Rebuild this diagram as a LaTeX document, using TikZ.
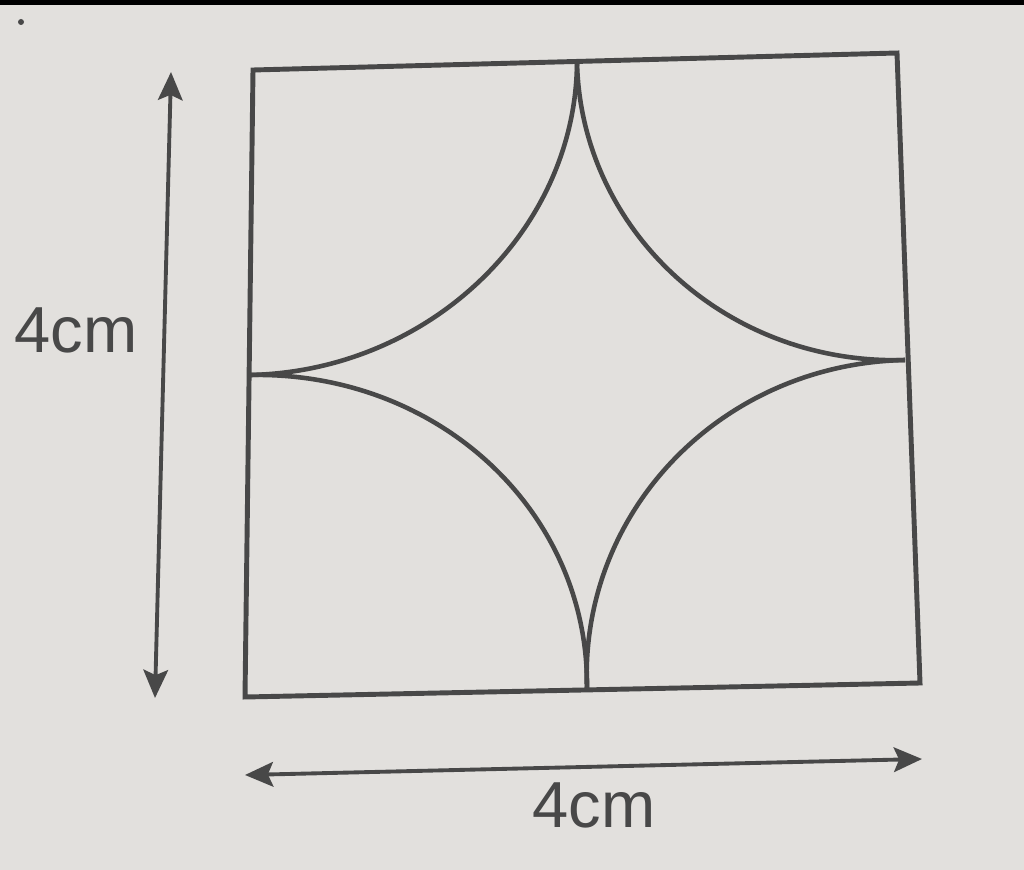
\documentclass[tikz,border=0pt]{standalone}
\usepackage{fontspec}
\setmainfont{Liberation Sans}
\usetikzlibrary{calc,arrows.meta}
\definecolor{paper}{RGB}{226,224,221}
\definecolor{ink}{RGB}{72,72,72}
\tikzset{
  frame/.style={draw=ink, line width=1.4pt, line join=miter},
  arcline/.style={draw=ink, line width=1.3pt},
  dimarrow/.style={draw=ink, line width=1.1pt, {Stealth[length=8pt,width=7pt,inset=1.5pt]}-{Stealth[length=8pt,width=7pt,inset=1.5pt]}},
  dimlabel/.style={text=ink, font=\fontsize{18.5}{20}\selectfont, inner sep=0pt}
}
\begin{document}
\begin{tikzpicture}[x=0.01cm,y=-0.01cm]
\fill[paper] (0,0) rectangle (1024,870);
\useasboundingbox (0,0) rectangle (1024,870);
\fill[black] (0,0) rectangle (1024,5);
\fill[ink] (21,22) circle (3);
% square corners and side midpoints
\coordinate (TL) at (253,70);
\coordinate (TR) at (897,53);
\coordinate (BR) at (920,683);
\coordinate (BL) at (245,697);
\coordinate (T) at (577,63);
\coordinate (R) at (905,360);
\coordinate (B) at (587,690);
\coordinate (L) at (250,375);
\draw[frame] (TL) -- (TR) -- (BR) -- (BL) -- cycle;
% quarter circles centred at each corner
\draw[arcline] (T) .. controls ($(T)+0.5523*(L)-0.5523*(TL)$) and ($(L)+0.5523*(T)-0.5523*(TL)$) .. (L);
\draw[arcline] (T) .. controls ($(T)+0.5523*(R)-0.5523*(TR)$) and ($(R)+0.5523*(T)-0.5523*(TR)$) .. (R);
\draw[arcline] (B) .. controls ($(B)+0.5523*(R)-0.5523*(BR)$) and ($(R)+0.5523*(B)-0.5523*(BR)$) .. (R);
\draw[arcline] (B) .. controls ($(B)+0.5523*(L)-0.5523*(BL)$) and ($(L)+0.5523*(B)-0.5523*(BL)$) .. (L);
% dimension arrows
\coordinate (VA) at (171,72);
\coordinate (VB) at (155,698);
\coordinate (HA) at (245,775);
\coordinate (HB) at (922,759);
\draw[dimarrow] (VA) -- (VB);
\draw[dimarrow] (HA) -- (HB);
\node[dimlabel] (lv) at (76,330) {4cm};
\node[dimlabel] (lh) at (594,805) {4cm};
\end{tikzpicture}
\end{document}
